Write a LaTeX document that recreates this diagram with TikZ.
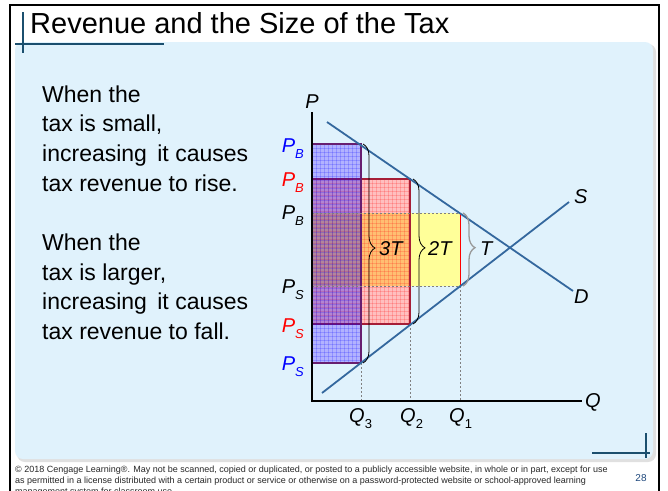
\documentclass[tikz,border=0pt]{standalone}
\usepackage{fontspec}
\setmainfont{Liberation Sans}
\usetikzlibrary{decorations.pathreplacing}
\definecolor{panelc}{RGB}{224,242,252}
\definecolor{decoc}{RGB}{27,79,110}
\definecolor{curvec}{RGB}{52,104,158}
\definecolor{rborder}{RGB}{166,30,55}
\definecolor{bborder}{RGB}{104,30,112}
\definecolor{ylw}{RGB}{255,255,153}
\definecolor{pgnum}{RGB}{31,73,125}
\definecolor{footc}{RGB}{40,40,40}
\newcommand\lowsub[1]{\raisebox{-0.3em}{\fontsize{13}{13}\selectfont #1}}
\begin{document}
\begin{tikzpicture}[x=1pt,y=-1pt,
  lefttext/.style={anchor=base west, inner sep=0pt, font=\fontsize{23}{23}\selectfont},
  plabel/.style={anchor=base east, inner sep=0pt, font=\fontsize{20}{20}\selectfont\itshape},
  axlabel/.style={inner sep=0pt, font=\fontsize{20}{20}\selectfont\itshape},
  footline/.style={anchor=base west, inner sep=0pt, text=footc, font=\fontsize{9}{9}\selectfont},
  decoline/.style={decoc, line width=2.5pt},
  guide/.style={gray, dash pattern=on 2pt off 2pt, line width=0.8pt},
  bracepath/.style={decorate, decoration={brace, amplitude=12pt, aspect=0.475}, line width=0.8pt},
  texture/.style={line width=0.5pt, opacity=0.18},
]
\useasboundingbox (0,0) rectangle (668,490);
\fill[white] (0,0) rectangle (668,490);
% frame
\draw[black, line width=2.5pt] (10,500) -- (10,5) -- (659,5) -- (659,500);
% panel
\fill[black!12, rounded corners=8pt] (17,44) rectangle (656,462);
\fill[panelc, rounded corners=8pt] (15,42) rectangle (653,459);
% title and decorations
\node[anchor=base west, inner sep=0pt, font=\fontsize{29}{29}\selectfont] (title) at (30,33) {Revenue and the Size of the Tax};
\draw[decoline] (23,12) -- (23,53);
\draw[decoline] (15,44) -- (164,44);
\draw[decoline] (646,433) -- (646,458);
\draw[decoline] (592,453) -- (650,453);

% left text
\node[lefttext] (l1) at (42,102) {When the};
\node[lefttext] (l2) at (42,131.7) {tax is small,};
\node[lefttext] (l3) at (42,161.4) {increasing\hspace{4pt} it causes};
\node[lefttext] (l4) at (42,191) {tax revenue to rise.};
\node[lefttext] (l5) at (42,250.5) {When the};
\node[lefttext] (l6) at (42,280.2) {tax is larger,};
\node[lefttext] (l7) at (42,309.9) {increasing\hspace{4pt} it causes};
\node[lefttext] (l8) at (42,339.6) {tax revenue to fall.};

% coordinates
\coordinate (O) at (312,401);
\coordinate (Ptop) at (312,112);
\coordinate (Qend) at (582,401);
\coordinate (Da) at (327,122);
\coordinate (Db) at (573,291);
\coordinate (Sa) at (322,393);
\coordinate (Sb) at (569,202);
\coordinate (Q3top) at (361,363);
\coordinate (Q3bot) at (361,401);
\coordinate (Q2top) at (410,324);
\coordinate (Q2bot) at (410,401);
\coordinate (Q1top) at (460,286);
\coordinate (Q1bot) at (460,401);

% rectangles
\fill[white] (312,144) rectangle (361,363);
\fill[white] (312,179) rectangle (410,324);
\fill[ylw] (312,213) rectangle (460,286);
\fill[red, fill opacity=0.25] (312,179) rectangle (410,324);
\begin{scope}
  \clip (312,179) rectangle (410,324);
  \foreach \k in {0,...,37} {
    \draw[texture, red] (312+4*\k,179) -- (312+4*\k,324);
    \draw[texture, red] (312,179+4*\k) -- (410,179+4*\k);
  }
\end{scope}
\draw[rborder, line width=2.5pt] (312,179) rectangle (410,324);
\fill[blue, fill opacity=0.3] (312,144) rectangle (361,363);
\begin{scope}
  \clip (312,144) rectangle (361,363);
  \foreach \k in {0,...,55} {
    \draw[texture, blue] (312+4*\k,144) -- (312+4*\k,363);
    \draw[texture, blue] (312,144+4*\k) -- (361,144+4*\k);
  }
\end{scope}
\draw[bborder, line width=2.5pt] (312,144) rectangle (361,363);
\draw[guide] (312,213) -- (460,213);
\draw[guide] (312,286) -- (460,286);
\draw[red, line width=0.9pt] (460,213) -- (Q1top);

% guides
\draw[guide] (Q3top) -- (Q3bot);
\draw[guide] (Q2top) -- (Q2bot);
\draw[guide] (Q1top) -- (Q1bot);

% axes and curves
\draw[line width=1.3pt] (Ptop) -- (O) -- (Qend);
\draw[curvec, line width=1.8pt] (Da) -- (Db);
\draw[curvec, line width=1.8pt] (Sa) -- (Sb);

% braces
\draw[bracepath] (363,144) -- (363,363);
\draw[bracepath] (413,179) -- (413,324);
\draw[bracepath, gray!80, line width=1.3pt] (463,213) -- (463,286);
\node[axlabel, anchor=base west] (t3) at (379,255) {3T};
\node[axlabel, anchor=base west] (t2) at (428,255) {2T};
\node[axlabel, anchor=base west] (t1) at (480,255) {T};

% axis labels
\node[axlabel, anchor=base] (Plab) at (312,108) {P};
\node[axlabel, anchor=base west] (Qlab) at (585,407) {Q};
\node[axlabel, anchor=base west] (Slab) at (574,203) {S};
\node[axlabel, anchor=base west] (Dlab) at (574,303) {D};
\node[axlabel, anchor=base west] (q3) at (349,422) {Q\lowsub{\upshape 3}};
\node[axlabel, anchor=base west] (q2) at (400,422) {Q\lowsub{\upshape 2}};
\node[axlabel, anchor=base west] (q1) at (449,422) {Q\lowsub{\upshape 1}};

% price labels
\node[plabel, text=blue] (pb1) at (304,152) {P\lowsub{B}};
\node[plabel, text=red] (pb2) at (304,186) {P\lowsub{B}};
\node[plabel] (pb3) at (304,219.5) {P\lowsub{B}};
\node[plabel] (ps3) at (304,293.5) {P\lowsub{S}};
\node[plabel, text=red] (ps2) at (304,332) {P\lowsub{S}};
\node[plabel, text=blue] (ps1) at (304,370.5) {P\lowsub{S}};

% footer
\node[footline] (f1) at (15,472) {© 2018 Cengage Learning®. May not be scanned, copied or duplicated, or posted to a publicly accessible website, in whole or in part, except for use};
\node[footline] (f2) at (15,483) {as permitted in a license distributed with a certain product or service or otherwise on a password-protected website or school-approved learning};
\node[footline] (f3) at (15,494) {management system for classroom use.};
\node[anchor=base, inner sep=0pt, text=pgnum, font=\fontsize{10}{10}\selectfont] (pg) at (641,481) {28};
\end{tikzpicture}
\end{document}
